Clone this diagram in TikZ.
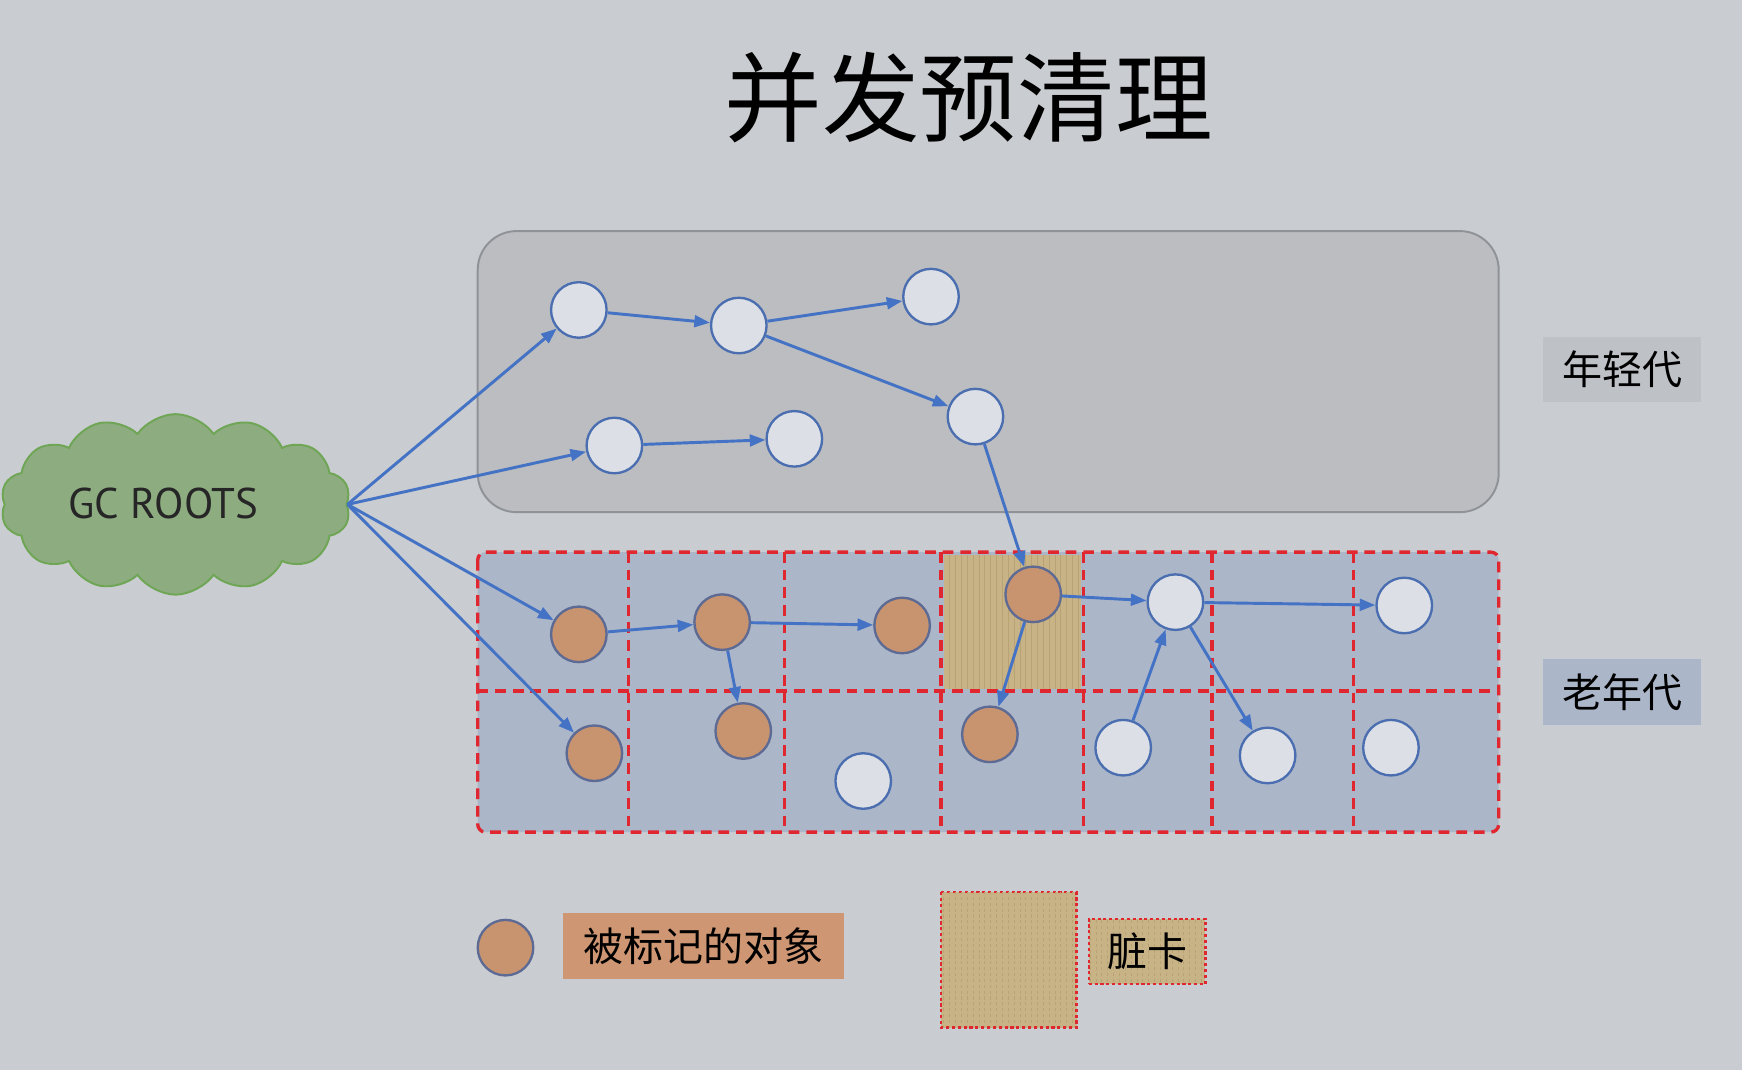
\documentclass[tikz,border=0pt]{standalone}
\usepackage{fontspec}
\setmainfont{Noto Sans CJK SC}
\newfontfamily\gcfont{PT Sans}
\usetikzlibrary{shapes.symbols,arrows.meta,patterns}

\definecolor{bgcol}{HTML}{C9CCD0}
\definecolor{youngfill}{HTML}{BBBDC1}
\definecolor{youngline}{HTML}{8F9297}
\definecolor{oldfill}{HTML}{ACB6C9}
\definecolor{cardred}{HTML}{E0262E}
\definecolor{refblue}{HTML}{4472C4}
\definecolor{objfill}{HTML}{DCDFE5}
\definecolor{objline}{HTML}{4A6EB0}
\definecolor{markfill}{HTML}{C8936F}
\definecolor{markline}{HTML}{5C6A94}
\definecolor{marklabel}{HTML}{CE9673}
\definecolor{cloudfill}{HTML}{8DAC80}
\definecolor{cloudline}{HTML}{6FA655}
\definecolor{cardtan}{HTML}{C8B386}
\definecolor{cardstripe}{HTML}{B9A274}
\definecolor{younglabel}{HTML}{BEC1C6}

\begin{document}
\begin{tikzpicture}[x=0.02cm,y=-0.02cm,
    obj/.style={circle,draw=objline,line width=1.2pt,fill=objfill,minimum size=1cm,inner sep=0pt},
    marked/.style={obj,draw=markline,fill=markfill},
    ref/.style={draw=refblue,line width=1.5pt,-{Triangle[length=8pt,width=6pt]}},
    grid/.style={draw=cardred,line width=1.7pt,dash pattern=on 5.5pt off 3.5pt},
    dirtycard/.style={fill=cardtan,postaction={pattern=vertical lines,pattern color=cardstripe}},
    dotted red/.style={draw=cardred,line width=1.2pt,dash pattern=on 1.6pt off 1.4pt},
    genlabel/.style={minimum width=2.84cm,minimum height=1.18cm,inner sep=0pt,font=\fontsize{20.5}{24}\selectfont}]
  \useasboundingbox (0,0) rectangle (1568,963);
  \fill[bgcol] (0,0) rectangle (1568,963);

  \node (title) at (872,88) {\fontsize{50}{60}\selectfont 并发预清理};

  % young generation
  \draw[youngline,fill=youngfill,line width=1pt,rounded corners=0.7cm] (430,208) rectangle (1349,461);
  \node[genlabel,fill=younglabel] (younglbl) at (1460,332.5) {年轻代};

  % old generation with card table
  \fill[oldfill,rounded corners=4pt] (430,497) rectangle (1349,749);
  \fill[dirtycard] (850,500) rectangle (973,620);
  \draw[grid] (566,497) -- (566,749);
  \draw[grid] (706,497) -- (706,749);
  \draw[grid] (847,497) -- (847,749);
  \draw[grid] (975,497) -- (975,749);
  \draw[grid] (1091,497) -- (1091,749);
  \draw[grid] (1218,497) -- (1218,749);
  \draw[grid] (430,622) -- (1349,622);
  \draw[grid,rounded corners=4pt] (430,497) rectangle (1349,749);
  \node[genlabel,fill=oldfill] (oldlbl) at (1460,623) {老年代};

  % roots
  \node[cloud,cloud puffs=14,cloud puff arc=110,aspect=2,draw=cloudline,fill=cloudfill,line width=1pt,
        minimum width=6.3cm,minimum height=3.25cm] (gc) at (158,454) {};
  \node[font=\gcfont\fontsize{22}{26}\selectfont,text=black!85] (gctext) at (147,453) {GC ROOTS};

  % objects
  \node[obj] (y1) at (521,279) {};
  \node[obj] (y2) at (665,293) {};
  \node[obj] (y3) at (838,267) {};
  \node[obj] (y4) at (878,375) {};
  \node[obj] (y5) at (553,401) {};
  \node[obj] (y6) at (715,395) {};

  \node[marked] (o1) at (521,571) {};
  \node[marked] (o2) at (650,560) {};
  \node[marked] (o3) at (812,563) {};
  \node[marked] (o4) at (930,535) {};
  \node[obj] (o5) at (1058,542) {};
  \node[obj] (o6) at (1264,545) {};
  \node[marked] (o7) at (535,678) {};
  \node[marked] (o8) at (669,658) {};
  \node[obj] (o9) at (777,703) {};
  \node[marked] (o10) at (891,661) {};
  \node[obj] (o11) at (1011,673) {};
  \node[obj] (o12) at (1141,680) {};
  \node[obj] (o13) at (1252,673) {};

  % references
  \draw[ref] (gc.east) -- (y1);
  \draw[ref] (gc.east) -- (y5);
  \draw[ref] (gc.east) -- (o1);
  \draw[ref] (gc.east) -- (o7);
  \draw[ref] (y1) -- (y2);
  \draw[ref] (y2) -- (y3);
  \draw[ref] (y2) -- (y4);
  \draw[ref] (y5) -- (y6);
  \draw[ref] (y4) -- (o4);
  \draw[ref] (o1) -- (o2);
  \draw[ref] (o2) -- (o3);
  \draw[ref] (o2) -- (o8);
  \draw[ref] (o4) -- (o5);
  \draw[ref] (o4) -- (o10);
  \draw[ref] (o11) -- (o5);
  \draw[ref] (o5) -- (o6);
  \draw[ref] (o5) -- (o12);

  % legend
  \node[marked] (legmark) at (455,853) {};
  \node[fill=marklabel,minimum width=5.06cm,minimum height=1.18cm,inner sep=0pt,font=\fontsize{20.5}{24}\selectfont] (legmarktxt) at (633.5,851.5) {被标记的对象};
  \filldraw[dirtycard,dotted red] (847,803) rectangle (969,925);
  \node[dirtycard,dotted red,minimum width=2.1cm,minimum height=1.18cm,inner sep=0pt,font=\fontsize{20.5}{24}\selectfont] (legcardtxt) at (1032.5,856.5) {脏卡};
\end{tikzpicture}
\end{document}
